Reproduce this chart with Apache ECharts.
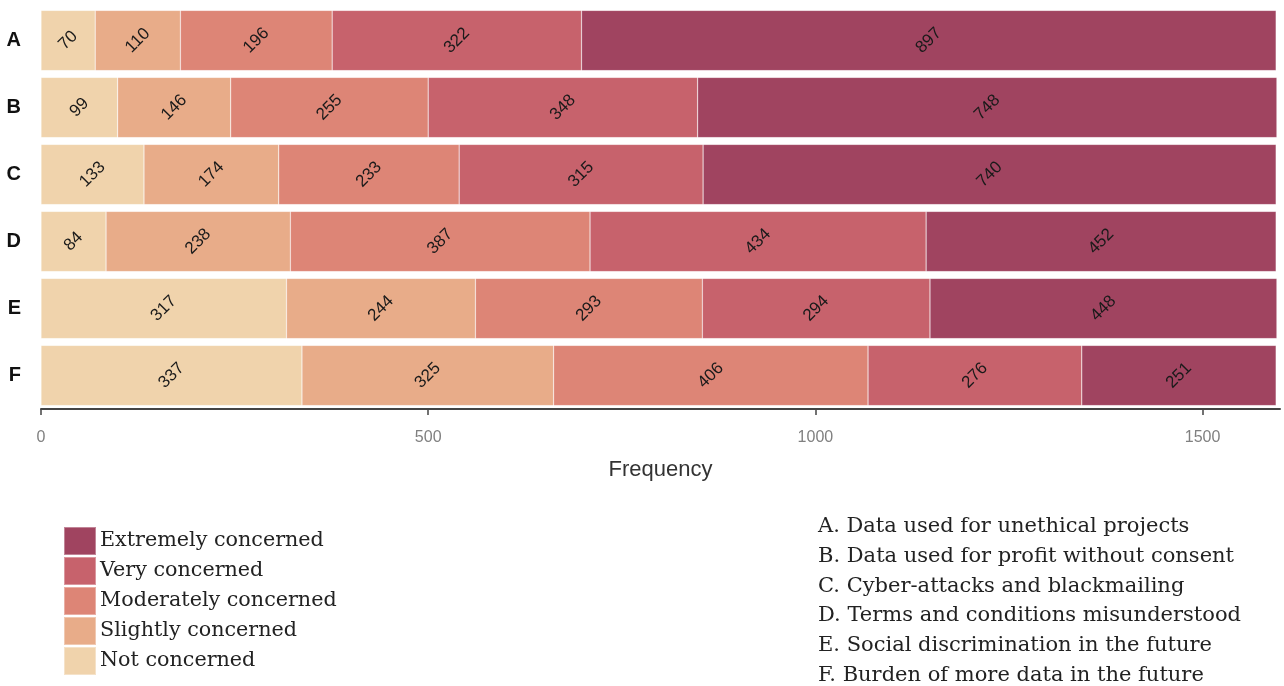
<!DOCTYPE html>
<html><head><meta charset="utf-8">
<script src="https://cdn.jsdelivr.net/npm/echarts@6/dist/echarts.min.js"></script>
<style>html,body{margin:0;padding:0;background:#fff}#c{width:1284px;height:686px}</style>
</head><body><div id="c"></div>
<script>
const categories = ['A','B','C','D','E','F'];
const levels = ['Not concerned','Slightly concerned','Moderately concerned','Very concerned','Extremely concerned'];
const notConcerned = [70, 99, 133, 84, 317, 337];
const slightly = [110, 146, 174, 238, 244, 325];
const moderately = [196, 255, 233, 387, 293, 406];
const very = [322, 348, 315, 434, 294, 276];
const extremely = [897, 748, 740, 452, 448, 251];
const xTicks = [0, 500, 1000, 1500];
const descriptions = [
  'A. Data used for unethical projects',
  'B. Data used for profit without consent',
  'C. Cyber-attacks and blackmailing',
  'D. Terms and conditions misunderstood',
  'E. Social discrimination in the future',
  'F. Burden of more data in the future'
];
const colors = ['#F0D3AC','#E8AC89','#DD8576','#C7626C','#A04460'];
const values = [notConcerned, slightly, moderately, very, extremely];

const chart = echarts.init(document.getElementById('c'), null, {renderer:'canvas'});
const series = levels.map((name, i) => ({
  name, type:'bar', stack:'total', data: values[i],
  barCategoryGap:'10%',
  itemStyle:{color: colors[i], borderColor:'rgba(255,255,255,0.35)', borderWidth:0.6},
  label:{show:true, position:'inside', rotate:45, color:'#1a1a1a', fontSize:17, fontFamily:'Liberation Sans, Arial, sans-serif'}
}));
chart.setOption({
  animation:false,
  backgroundColor:'#fff',
  color: colors,
  grid:{left:41, right:4, top:7, bottom:277, containLabel:false},
  xAxis:{type:'value', min:0, max:1600,
    axisLine:{show:true, lineStyle:{color:'#444', width:2}},
    axisTick:{show:true, customValues:xTicks, length:6, lineStyle:{color:'#444', width:1.5}},
    axisLabel:{customValues:xTicks, formatter:(v)=>String(v), color:'#808080', fontSize:16, margin:21, fontFamily:'Liberation Sans, Arial, sans-serif'},
    splitLine:{show:false},
    name:'Frequency', nameLocation:'middle', nameGap:50,
    nameTextStyle:{color:'#333', fontSize:22, fontFamily:'Liberation Sans, Arial, sans-serif'}
  },
  yAxis:{type:'category', data:categories, inverse:true,
    axisLine:{show:false}, axisTick:{show:false},
    axisLabel:{color:'#111', fontSize:20, fontWeight:'bold', margin:20, fontFamily:'Liberation Sans, Arial, sans-serif'}
  },
  legend:{orient:'vertical', left:63, top:526, height:170, padding:0, itemWidth:32, itemHeight:28, itemGap:0,
    data: levels.slice().reverse(), icon:'rect', selectedMode:false,
    textStyle:{color:'#222', fontSize:20.7, lineHeight:28, fontFamily:'DejaVu Serif, serif', padding:[0,0,0,-1]}
  },
  graphic: descriptions.map((t, i) => ({
    type:'text', left:818, top:516 + i*29.8,
    style:{text:t, fill:'#222', font:'21px "DejaVu Serif", serif'}
  })),
  series
});
</script></body></html>
